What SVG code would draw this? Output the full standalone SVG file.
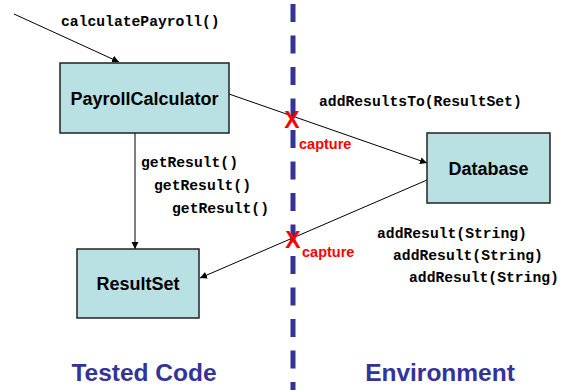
<svg xmlns="http://www.w3.org/2000/svg" width="565" height="390" viewBox="0 0 565 390">
<defs>
<marker id="ah" markerWidth="8" markerHeight="8" refX="7" refY="4" orient="auto" markerUnits="userSpaceOnUse">
<path d="M0,0.5 L7,4 L0,7.5 Z" fill="#000"/>
</marker>
<style>
.box{fill:#B9E0E3;stroke:#222;stroke-width:1.5}
.name{font-family:"Liberation Sans",Arial,sans-serif;font-weight:bold;font-size:18px;fill:#000;text-anchor:middle}
.code{font-family:"Liberation Mono","Courier New",monospace;font-weight:bold;font-size:14.7px;fill:#000}
.conn{stroke:#000;stroke-width:1;fill:none;marker-end:url(#ah)}
.red{font-family:"Liberation Sans",Arial,sans-serif;font-weight:bold;fill:#FF0000}
.side{font-family:"Liberation Sans",Arial,sans-serif;font-weight:bold;font-size:24.5px;fill:#333399;text-anchor:middle}
</style>
</defs>
<rect width="565" height="390" fill="#fff"/>
<line id="boundary" x1="293" y1="4" x2="293" y2="390" stroke="#333399" stroke-width="5" stroke-dasharray="18 13.5"/>
<g id="connectors">
<line class="conn" x1="14" y1="14" x2="119" y2="62"/>
<line class="conn" x1="229" y1="94" x2="427" y2="163"/>
<line class="conn" x1="135" y1="133" x2="135" y2="249"/>
<line class="conn" x1="427" y1="180" x2="200" y2="278"/>
</g>
<g id="PayrollCalculator">
<rect class="box" x="60" y="63" width="169" height="70"/>
<text class="name" x="144.5" y="105">PayrollCalculator</text>
</g>
<g id="Database">
<rect class="box" x="427" y="133" width="123" height="70"/>
<text class="name" x="488.5" y="175">Database</text>
</g>
<g id="ResultSet">
<rect class="box" x="77" y="249" width="122" height="69"/>
<text class="name" x="138" y="290">ResultSet</text>
</g>
<g id="labels">
<text class="code" x="61" y="26">calculatePayroll()</text>
<text class="code" x="319" y="106">addResultsTo(ResultSet)</text>
<text class="code" x="141" y="167">getResult()</text>
<text class="code" x="154" y="190">getResult()</text>
<text class="code" x="172" y="213">getResult()</text>
<text class="code" x="377" y="238">addResult(String)</text>
<text class="code" x="393" y="260">addResult(String)</text>
<text class="code" x="409" y="282">addResult(String)</text>
</g>
<g id="captures">
<text class="red" x="292" y="127.5" font-size="23" text-anchor="middle">X</text>
<text class="red" x="299" y="148.5" font-size="14.5">capture</text>
<text class="red" x="293" y="247.5" font-size="23" text-anchor="middle">X</text>
<text class="red" x="302" y="256.5" font-size="14.5">capture</text>
</g>
<text class="side" x="144" y="381">Tested Code</text>
<text class="side" x="440" y="381">Environment</text>
</svg>
